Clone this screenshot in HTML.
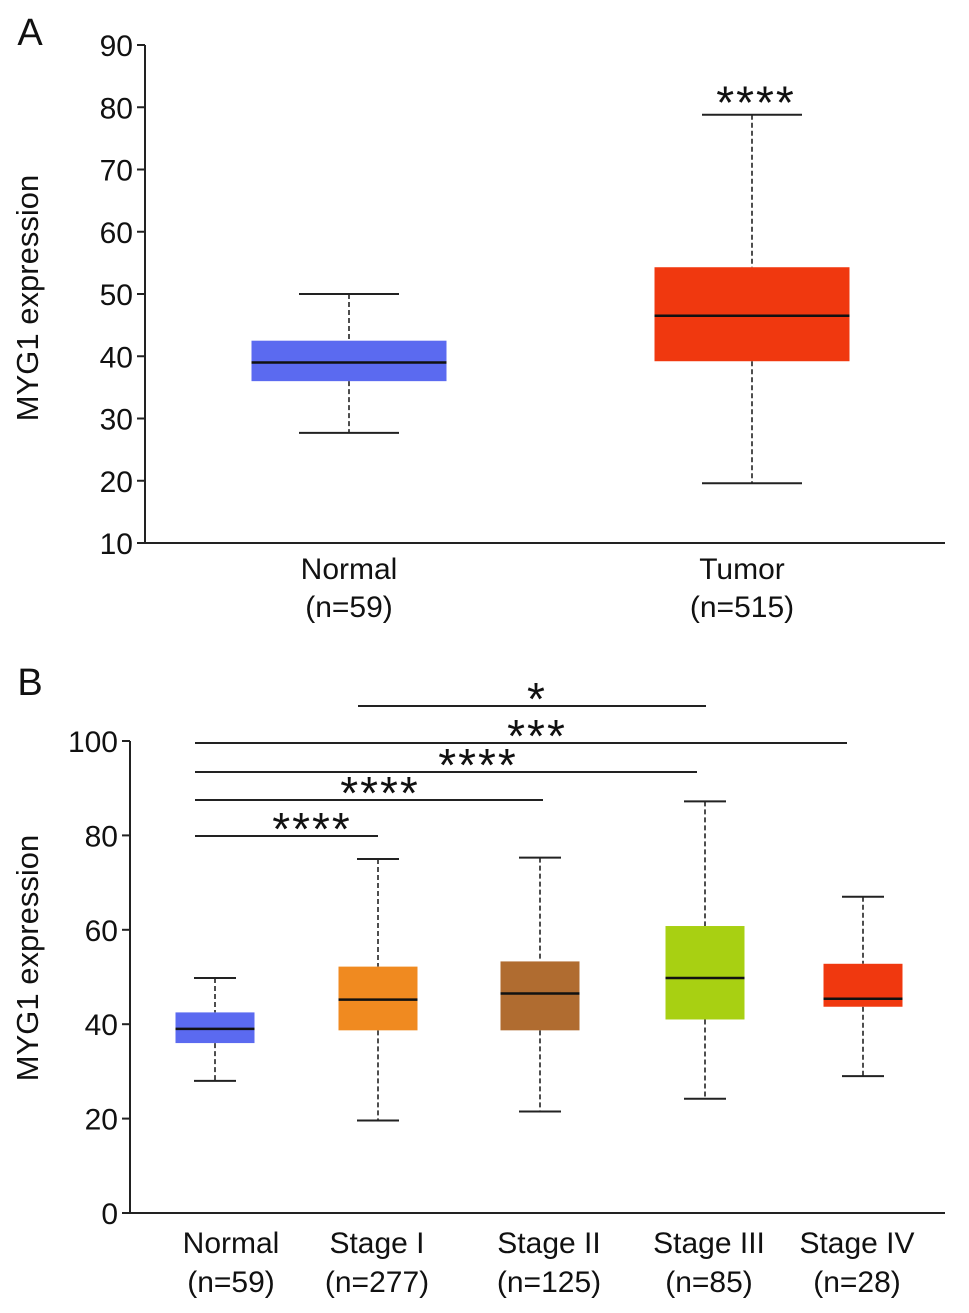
<!DOCTYPE html>
<html><head><meta charset="utf-8"><style>
html,body{margin:0;padding:0;background:#fff}
svg{display:block;font-family:"Liberation Sans",Arial,sans-serif}
</style></head><body>
<svg id="chart" width="969" height="1313" viewBox="0 0 969 1313" xmlns="http://www.w3.org/2000/svg"></svg>
<script>
// Panel A data
const catsA = ["Normal","Tumor"];
const nA = ["(n=59)","(n=515)"];
const minA = [27.7,19.6];
const q1A = [36,39.2];
const medA = [39,46.5];
const q3A = [42.5,54.3];
const maxA = [50,78.8];
const colorsA = ["#5b6af0","#f0380f"];
const ticksA = [10,20,30,40,50,60,70,80,90];
const sigA = ["","****"];
// Panel B data
const catsB = ["Normal","Stage I","Stage II","Stage III","Stage IV"];
const nB = ["(n=59)","(n=277)","(n=125)","(n=85)","(n=28)"];
const minB = [28,19.6,21.5,24.2,29];
const q1B = [36,38.7,38.7,41,43.7];
const medB = [39,45.2,46.5,49.8,45.4];
const q3B = [42.5,52.2,53.3,60.8,52.8];
const maxB = [49.8,75,75.3,87.2,67];
const colorsB = ["#5b6af0","#f08a20","#b06c30","#a8d012","#f0380f"];
const ticksB = [0,20,40,60,80,100];
const compLabel = ["****","****","****","***","*"];

const svg = document.getElementById('chart');
const NS = "http://www.w3.org/2000/svg";
function el(tag, attrs, parent){
  const e = document.createElementNS(NS, tag);
  for (const k in attrs) e.setAttribute(k, attrs[k]);
  (parent||svg).appendChild(e); return e;
}
function txt(s, x, y, size, anchor, name){
  const t = el('text',{x:x,y:y,'font-size':size,'text-anchor':anchor||'middle',fill:'#111'});
  t.textContent = s;
  
  
  return t;
}
function stars(s, x, cy, name){
  const t = txt(s, x, cy+22, 46, 'middle', name);
  t.setAttribute('letter-spacing','2');
  return t;
}
function ln(x1,y1,x2,y2,extra){
  const a = {x1:x1,y1:y1,x2:x2,y2:y2,stroke:'#222','stroke-width':2};
  for (const k in extra) a[k]=extra[k];
  return el('line',a);
}

function panel(cfg){
  const g = el('g',{});
  
  
  const y = v => cfg.y0 + (v - cfg.vmin)/(cfg.vmax-cfg.vmin)*(cfg.y1-cfg.y0);
  const x = i => cfg.xs[i];
  const ya = ln(cfg.ax, y(cfg.vmax), cfg.ax, y(cfg.vmin));
   
  const xa = ln(cfg.ax-8, y(cfg.vmin), cfg.axEnd, y(cfg.vmin));
   
  cfg.ticks.forEach(t=>{
    ln(cfg.ax-8, y(t), cfg.ax, y(t));
    txt(String(t), cfg.ax-12, y(t)+11, 30, 'end', 'y-tick-label');
  });
  const yt = txt('MYG1 expression', 0, 0, 31, 'middle', 'y-axis-title');
  yt.setAttribute('transform', `translate(${cfg.titleX},${cfg.titleY}) rotate(-90)`);
  cfg.cats.forEach((c,i)=>{
    const cx = x(i), hw = cfg.bw/2, cw = cfg.cw/2;
    const b = el('g',{});
    
    
    el('line',{x1:cx,y1:y(cfg.max[i]),x2:cx,y2:y(cfg.q3[i]),stroke:'#222','stroke-width':1.6,'stroke-dasharray':'5,3'},b);
    el('line',{x1:cx,y1:y(cfg.q1[i]),x2:cx,y2:y(cfg.min[i]),stroke:'#222','stroke-width':1.6,'stroke-dasharray':'5,3'},b);
    el('line',{x1:cx-cw,y1:y(cfg.max[i]),x2:cx+cw,y2:y(cfg.max[i]),stroke:'#222','stroke-width':2},b);
    el('line',{x1:cx-cw,y1:y(cfg.min[i]),x2:cx+cw,y2:y(cfg.min[i]),stroke:'#222','stroke-width':2},b);
    el('rect',{x:cx-hw,y:y(cfg.q3[i]),width:cfg.bw,height:y(cfg.q1[i])-y(cfg.q3[i]),fill:cfg.colors[i]},b);
    el('line',{x1:cx-hw,y1:y(cfg.med[i]),x2:cx+hw,y2:y(cfg.med[i]),stroke:'#111','stroke-width':2.5},b);
    txt(c, cfg.lx[i], cfg.l1, 30, 'middle', 'x-category-label');
    txt(cfg.n[i], cfg.lx[i], cfg.l2, 30, 'middle', 'sample-size-label');
  });
  return {y:y,x:x};
}

const A = panel({name:'panel-a',cats:catsA,n:nA,min:minA,q1:q1A,med:medA,q3:q3A,max:maxA,colors:colorsA,ticks:ticksA,
  vmin:10,vmax:90,y0:543,y1:45,ax:145,axEnd:945,xs:[349,752],lx:[349,742],bw:195,cw:100,l1:579,l2:617,titleX:38,titleY:298});
sigA.forEach((s,i)=>{ if(s) stars(s, A.x(i)+4, A.y(maxA[i])-18, 'significance-stars'); });
txt('A', 30, 45, 38, 'middle', 'panel-a-letter');

const B = panel({name:'panel-b',cats:catsB,n:nB,min:minB,q1:q1B,med:medB,q3:q3B,max:maxB,colors:colorsB,ticks:ticksB,
  vmin:0,vmax:100,y0:1213,y1:741,ax:130,axEnd:945,xs:[215,378,540,705,863],lx:[231,377,549,709,857],bw:79,cw:42,l1:1253,l2:1292,titleX:38,titleY:958});
txt('B', 30, 695, 38, 'middle', 'panel-b-letter');
const compY = [836,800,772,743,706];
const compStart = [195,195,195,195,358];
const compEnd = [378,543,697,847,706];
const compX = [312,380,478,537,537];
compLabel.forEach((s,i)=>{
  const l = ln(compStart[i], compY[i], compEnd[i], compY[i]);
   
  stars(s, compX[i], compY[i]-13, 'comparison-stars');
});
</script>
</body></html>
